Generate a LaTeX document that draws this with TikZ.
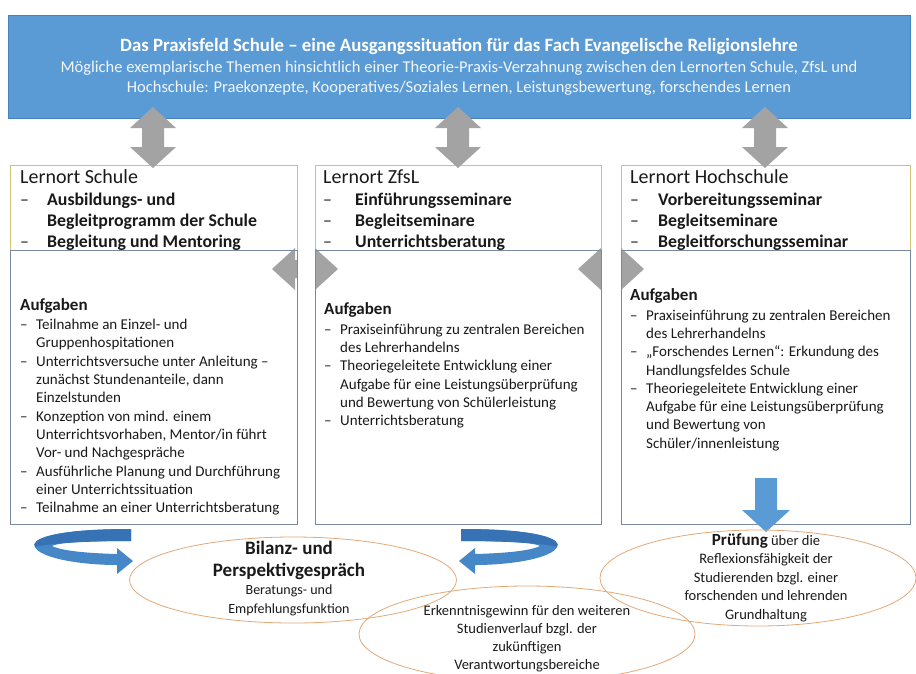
\documentclass[tikz,border=0pt]{standalone}
\usepackage{fontspec}
\setmainfont{Carlito}
\usetikzlibrary{shapes.geometric}

\definecolor{bannerblue}{RGB}{91,155,213}
\definecolor{bannerline}{RGB}{70,130,190}
\definecolor{arrowgray}{RGB}{163,163,163}
\definecolor{headline}{RGB}{205,195,115}
\definecolor{boxline}{RGB}{120,138,158}
\definecolor{ovalline}{RGB}{226,168,118}
\definecolor{ribbonblue}{RGB}{70,135,200}
\definecolor{ribbondark}{RGB}{55,115,180}
\definecolor{textdark}{RGB}{25,25,25}

\tikzset{
  banner/.style={rectangle, fill=bannerblue, draw=bannerline, text=white!92!bannerblue, align=center,
    minimum width=902pt, minimum height=103pt, inner sep=0pt, font=\fontsize{16.5}{20}\selectfont},
  kopf/.style={anchor=base west, inner sep=0pt, text=textdark, font=\fontsize{17.8}{21}\selectfont},
  aufgabe/.style={anchor=base west, inner sep=0pt, text=textdark, font=\fontsize{15}{18.3}\selectfont},
  oval/.style={ellipse, draw=ovalline, line width=0.8pt, inner sep=0pt},
  ovaltext/.style={anchor=base, inner sep=0pt, text=textdark, font=\fontsize{14.5}{18.5}\selectfont},
  kopfbox/.style={draw=headline, line width=0.8pt},
  unterbox/.style={draw=boxline, line width=0.8pt},
}

\begin{document}
\begin{tikzpicture}[x=1pt,y=-1pt]

	\clip (0,0) rectangle (916,673);

	\node[banner] (praxisfeld) at (459,66.5) {%
		\textcolor{white}{\bfseries\fontsize{18.8}{21}\selectfont Das Praxisfeld Schule -- eine Ausgangssituation für das Fach Evangelische Religionslehre}\\[1pt]
		Mögliche exemplarische Themen hinsichtlich einer Theorie-Praxis-Verzahnung  zwischen den Lernorten Schule, ZfsL und\\
		Hochschule:  Praekonzepte, Kooperatives/Soziales Lernen, Leistungsbewertung, forschendes Lernen};

	% Kopfkaesten
	\draw[kopfbox] (10,165) rectangle (297,250);
	\draw[kopfbox] (315,165) rectangle (601,250);
	\draw[kopfbox] (621,165) rectangle (910,250);

	% senkrechte Doppelpfeile
	\def \a {153}
	\fill[arrowgray] (\a,107)--(\a+23,128)--(\a+11,128)--(\a+11,147)--(\a+23,147)--(\a,168)--(\a-23,147)--(\a-11,147)--(\a-11,128)--(\a-23,128)--cycle;
	\def \a {458}
	\fill[arrowgray] (\a,107)--(\a+23,128)--(\a+11,128)--(\a+11,147)--(\a+23,147)--(\a,168)--(\a-23,147)--(\a-11,147)--(\a-11,128)--(\a-23,128)--cycle;
	\def \a {765}
	\fill[arrowgray] (\a,107)--(\a+23,128)--(\a+11,128)--(\a+11,147)--(\a+23,147)--(\a,168)--(\a-23,147)--(\a-11,147)--(\a-11,128)--(\a-23,128)--cycle;

	% waagerechte Doppelpfeile
	\def \a {305}
	\def \b {269}
	\fill[arrowgray] (\a-33,\b)--(\a-10,\b-21)--(\a-10,\b-9)--(\a+10,\b-9)--(\a+10,\b-21)--(\a+33,\b)--(\a+10,\b+21)--(\a+10,\b+9)--(\a-10,\b+9)--(\a-10,\b+21)--cycle;
	\fill[white] (297.5,\b-23) rectangle (314.5,\b+23);
	\def \a {611}
	\fill[arrowgray] (\a-33,\b)--(\a-10,\b-21)--(\a-10,\b-9)--(\a+10,\b-9)--(\a+10,\b-21)--(\a+33,\b)--(\a+10,\b+21)--(\a+10,\b+9)--(\a-10,\b+9)--(\a-10,\b+21)--cycle;
	\fill[white] (601.5,\b-23) rectangle (620.5,\b+23);

	% Aufgabenkaesten
	\draw[unterbox] (10,250) rectangle (297,524);
	\draw[unterbox] (315,250) rectangle (601,524);
	\draw[unterbox] (621,250) rectangle (910,524);

	\node[kopf] (kopfschule) at (20,183) {%
		\begin{tabular}[t]{@{}p{27pt}@{}l@{}}
		\multicolumn{2}{@{}l@{}}{\fontsize{20}{21}\selectfont Lernort  Schule}\\[1.5pt]
		--&\textbf{Ausbildungs- und}\\
		&\textbf{Begleitprogramm der Schule}\\
		--&\textbf{Begleitung und Mentoring}
		\end{tabular}};
	\node[kopf] (kopfzfsl) at (323,183) {%
		\begin{tabular}[t]{@{}p{32pt}@{}l@{}}
		\multicolumn{2}{@{}l@{}}{\fontsize{20}{21}\selectfont Lernort  ZfsL}\\[1.5pt]
		--&\textbf{Einführungsseminare}\\
		--&\textbf{Begleitseminare}\\
		--&\textbf{Unterrichtsberatung}
		\end{tabular}};
	\node[kopf] (kopfhochschule) at (630,183) {%
		\begin{tabular}[t]{@{}p{28pt}@{}l@{}}
		\multicolumn{2}{@{}l@{}}{\fontsize{20}{21}\selectfont Lernort  Hochschule}\\[1.5pt]
		--&\textbf{Vorbereitungsseminar}\\
		--&\textbf{Begleitseminare}\\
		--&\textbf{Begleitforschungsseminar}
		\end{tabular}};

	\node[aufgabe] (aufgabenschule) at (20,310) {%
		\begin{tabular}[t]{@{}p{16pt}@{}l@{}}
		\multicolumn{2}{@{}l@{}}{\bfseries\fontsize{17}{21}\selectfont Aufgaben}\\[1.3pt]
		--&Teilnahme an Einzel- und\\
		&Gruppenhospitationen\\
		--&Unterrichtsversuche unter Anleitung --\\
		&zunächst Stundenanteile, dann\\
		&Einzelstunden\\
		--&Konzeption  von mind. einem\\
		&Unterrichtsvorhaben, Mentor/in  führt\\
		&Vor-  und Nachgespräche\\
		--&Ausführliche Planung und Durchführung\\
		&einer Unterrichtssituation\\
		--&Teilnahme an einer Unterrichtsberatung
		\end{tabular}};
	\node[aufgabe] (aufgabenzfsl) at (324,314.5) {%
		\begin{tabular}[t]{@{}p{16pt}@{}l@{}}
		\multicolumn{2}{@{}l@{}}{\bfseries\fontsize{17}{21}\selectfont Aufgaben}\\[1.3pt]
		--&Praxiseinführung zu zentralen Bereichen\\
		&des Lehrerhandelns\\
		--&Theoriegeleitete Entwicklung  einer\\
		&Aufgabe für eine Leistungsüberprüfung\\
		&und  Bewertung von Schülerleistung\\
		--&Unterrichtsberatung
		\end{tabular}};
	\node[aufgabe] (aufgabenhochschule) at (630,300.5) {%
		\begin{tabular}[t]{@{}p{16pt}@{}l@{}}
		\multicolumn{2}{@{}l@{}}{\bfseries\fontsize{17}{21}\selectfont Aufgaben}\\[1.3pt]
		--&Praxiseinführung zu zentralen Bereichen\\
		&des Lehrerhandelns\\
		--&„Forschendes Lernen“: Erkundung  des\\
		&Handlungsfeldes Schule\\
		--&Theoriegeleitete Entwicklung einer\\
		&Aufgabe für eine Leistungsüberprüfung\\
		&und Bewertung von\\
		&Schüler/innenleistung
		\end{tabular}};

	% Pfeil zur Pruefung
	\def \a {766}
	\fill[bannerblue] (\a-11,478)--(\a+11,478)--(\a+11,510)--(\a+24,510)--(\a,532)--(\a-24,510)--(\a-11,510)--cycle;

	% Wendepfeile
	\fill[ribbonblue] (131,529) .. controls (50,529) and (30,540) .. (35,547)
		.. controls (40,558) and (80,565) .. (117,565) -- (117,574) -- (133,561) -- (117,548) -- (117,554)
		.. controls (80,553) and (60,550) .. (52,546) .. controls (60,542) and (90,541) .. (131,541) -- cycle;
	\fill[ribbondark] (131,529) .. controls (50,529) and (30,540) .. (35,547)
		.. controls (45,544) and (80,541) .. (131,541) -- cycle;
	\fill[ribbonblue] (461,529) .. controls (542,529) and (562,540) .. (557,547)
		.. controls (552,558) and (512,565) .. (475,565) -- (475,574) -- (459,561) -- (475,548) -- (475,554)
		.. controls (512,553) and (532,550) .. (540,546) .. controls (532,542) and (502,541) .. (461,541) -- cycle;
	\fill[ribbondark] (461,529) .. controls (542,529) and (562,540) .. (557,547)
		.. controls (547,544) and (512,541) .. (461,541) -- cycle;

	% Ellipsen
	\node[oval, minimum width=327pt, minimum height=86pt] (bilanz) at (293,580) {};
	\node[oval, minimum width=336pt, minimum height=96pt] (erkenntnis) at (527,634) {};
	\node[oval, minimum width=316pt, minimum height=96pt] (pruefung) at (758,578) {};

	\node[ovaltext] (bilanztext) at (289,554) {%
		\begin{tabular}[t]{@{}c@{}}
		\bfseries\fontsize{19}{22}\selectfont Bilanz- und\\[3.5pt]
		\bfseries\fontsize{19}{22}\selectfont Perspektivgespräch\\
		\fontsize{14}{18.5}\selectfont Beratungs- und\\
		\fontsize{14}{18.5}\selectfont Empfehlungsfunktion
		\end{tabular}};
	\node[ovaltext] (erkenntnistext) at (527,615) {%
		\begin{tabular}[t]{@{}c@{}}
		Erkenntnisgewinn für den  weiteren\\[-0.5pt]
		Studienverlauf  bzgl. der\\[-0.5pt]
		zukünftigen\\[-0.5pt]
		Verantwortungsbereiche
		\end{tabular}};
	\node[ovaltext] (pruefungtext) at (766,545) {%
		\begin{tabular}[t]{@{}c@{}}
		{\bfseries\fontsize{17}{21}\selectfont Prüfung} über die\\
		Reflexionsfähigkeit der\\
		Studierenden  bzgl. einer\\
		forschenden und  lehrenden\\
		Grundhaltung
		\end{tabular}};

\end{tikzpicture}
\end{document}
